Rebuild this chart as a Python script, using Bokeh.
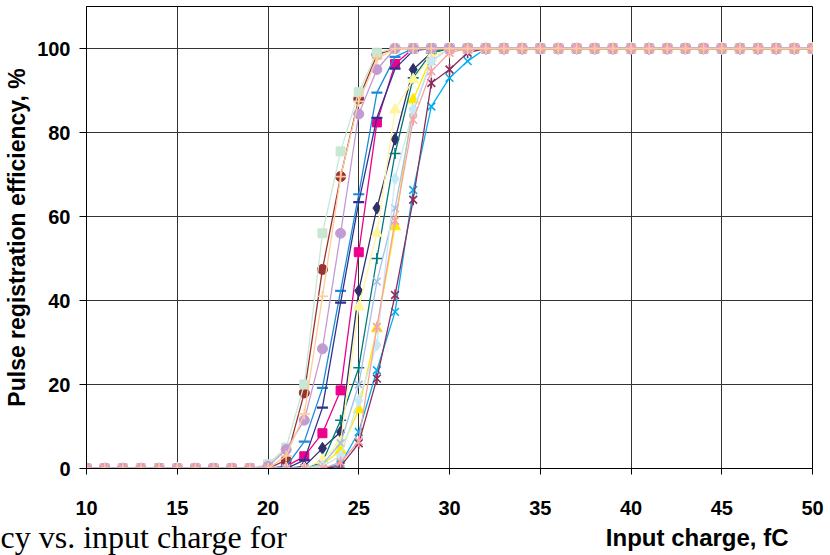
import math
from bokeh.plotting import figure
from bokeh.models import FixedTicker, Range1d, Title
from bokeh.embed import file_html
from bokeh.resources import INLINE

# Input charge, fC (one point per fC)
x_charge = list(range(10, 51))
x_ticks = [10, 15, 20, 25, 30, 35, 40, 45, 50]
y_ticks = [0, 20, 40, 60, 80, 100]

# Pulse registration efficiency, % (values at x = 10 ... 50)
eff_green_sq = [0, 0, 0, 0, 0, 0, 0, 0, 0, 0,
                1, 5, 20, 56, 75.5, 89.6, 99, 100, 100, 100, 100, 100, 100,
                100, 100, 100, 100, 100, 100, 100, 100, 100, 100, 100, 100, 100, 100, 100, 100, 100, 100]
eff_peach_plus = [0, 0, 0, 0, 0, 0, 0, 0, 0, 0,
                  0, 3, 13, 41, 69.5, 87.4, 97.5, 100, 100, 100, 100, 100, 100,
                  100, 100, 100, 100, 100, 100, 100, 100, 100, 100, 100, 100, 100, 100, 100, 100, 100, 100]
eff_brown_circ = [0, 0, 0, 0, 0, 0, 0, 0, 0, 0,
                  0, 2, 18, 47.4, 69.5, 88, 98.5, 100, 100, 100, 100, 100, 100,
                  100, 100, 100, 100, 100, 100, 100, 100, 100, 100, 100, 100, 100, 100, 100, 100, 100, 100]
eff_lilac_circ = [0, 0, 0, 0, 0, 0, 0, 0, 0, 0,
                  0.5, 4.5, 11.5, 28.5, 56, 84.4, 95, 100, 100, 100, 100, 100, 100,
                  100, 100, 100, 100, 100, 100, 100, 100, 100, 100, 100, 100, 100, 100, 100, 100, 100, 100]
eff_blue_dash = [0, 0, 0, 0, 0, 0, 0, 0, 0, 0,
                 0, 0.5, 6.4, 19.2, 42.3, 65.3, 89.5, 98, 100, 100, 100, 100, 100,
                 100, 100, 100, 100, 100, 100, 100, 100, 100, 100, 100, 100, 100, 100, 100, 100, 100, 100]
eff_navy_dash = [0, 0, 0, 0, 0, 0, 0, 0, 0, 0,
                 0, 0, 2, 14.5, 39.5, 63.4, 83.5, 95.2, 99.5, 100, 100, 100, 100,
                 100, 100, 100, 100, 100, 100, 100, 100, 100, 100, 100, 100, 100, 100, 100, 100, 100, 100]
eff_pink_sq = [0, 0, 0, 0, 0, 0, 0, 0, 0, 0,
               0, 0.5, 2.9, 8.4, 18.6, 51.5, 82.4, 96.3, 100, 100, 100, 100, 100,
               100, 100, 100, 100, 100, 100, 100, 100, 100, 100, 100, 100, 100, 100, 100, 100, 100, 100]
eff_navy_diam = [0, 0, 0, 0, 0, 0, 0, 0, 0, 0,
                 0, 0, 0.5, 4.8, 8.7, 42.3, 62, 78.4, 95, 99, 100, 100, 100,
                 100, 100, 100, 100, 100, 100, 100, 100, 100, 100, 100, 100, 100, 100, 100, 100, 100, 100]
eff_pale_tri = [0, 0, 0, 0, 0, 0, 0, 0, 0, 0,
                0, 0, 0, 2, 6.3, 38.5, 56, 85.4, 92.6, 98, 100, 100, 100,
                100, 100, 100, 100, 100, 100, 100, 100, 100, 100, 100, 100, 100, 100, 100, 100, 100, 100]
eff_yellow_tri = [0, 0, 0, 0, 0, 0, 0, 0, 0, 0,
                  0, 0, 0, 1, 4.3, 14, 33.3, 57.6, 87.8, 98, 100, 100, 100,
                  100, 100, 100, 100, 100, 100, 100, 100, 100, 100, 100, 100, 100, 100, 100, 100, 100, 100]
eff_teal_plus = [0, 0, 0, 0, 0, 0, 0, 0, 0, 0,
                 0, 0, 0, 1.5, 11.5, 24, 50, 75, 93, 99, 100, 100, 100,
                 100, 100, 100, 100, 100, 100, 100, 100, 100, 100, 100, 100, 100, 100, 100, 100, 100, 100]
eff_paleblue_x = [0, 0, 0, 0, 0, 0, 0, 0, 0, 0,
                  0, 0, 0, 1, 6, 20, 44.5, 62, 85, 97, 100, 100, 100,
                  100, 100, 100, 100, 100, 100, 100, 100, 100, 100, 100, 100, 100, 100, 100, 100, 100, 100]
eff_cyan_diam = [0, 0, 0, 0, 0, 0, 0, 0, 0, 0,
                 0, 0, 0, 0.5, 3, 16.2, 29.4, 69, 85.4, 97, 100, 100, 100,
                 100, 100, 100, 100, 100, 100, 100, 100, 100, 100, 100, 100, 100, 100, 100, 100, 100, 100]
eff_pink_star = [0, 0, 0, 0, 0, 0, 0, 0, 0, 0,
                 0, 0, 0, 0, 1.5, 6.5, 33.7, 59, 83, 94.6, 99, 100, 100,
                 100, 100, 100, 100, 100, 100, 100, 100, 100, 100, 100, 100, 100, 100, 100, 100, 100, 100]
eff_blue_x = [0, 0, 0, 0, 0, 0, 0, 0, 0, 0,
              0, 0, 0, 0, 1, 8.7, 23.4, 37.3, 66.3, 86.2, 93, 97, 100,
              100, 100, 100, 100, 100, 100, 100, 100, 100, 100, 100, 100, 100, 100, 100, 100, 100, 100]
eff_maroon_star = [0, 0, 0, 0, 0, 0, 0, 0, 0, 0,
                   0, 0, 0, 0, 0.5, 6, 21.4, 41.3, 64, 91.8, 95, 99, 100,
                   100, 100, 100, 100, 100, 100, 100, 100, 100, 100, 100, 100, 100, 100, 100, 100, 100, 100]

# (values, colour, marker) in drawing order (first drawn = bottom)
series = [
    (eff_navy_diam, "#2e2f6b", "diamond"),
    (eff_pink_sq, "#ec008c", "square"),
    (eff_yellow_tri, "#ffe800", "triangle"),
    (eff_blue_x, "#00aeef", "x"),
    (eff_maroon_star, "#8c2d5c", "star"),
    (eff_brown_circ, "#993333", "circle"),
    (eff_teal_plus, "#007a78", "cross"),
    (eff_blue_dash, "#1c8ad4", "dash"),
    (eff_navy_dash, "#2e3192", "dash"),
    (eff_green_sq, "#c9e7d3", "square"),
    (eff_pale_tri, "#fff59d", "triangle"),
    (eff_paleblue_x, "#a5c0e5", "x"),
    (eff_cyan_diam, "#c7e8f8", "diamond"),
    (eff_lilac_circ, "#c39bd3", "circle"),
    (eff_pink_star, "#f5a3a8", "star"),
    (eff_peach_plus, "#ffcc99", "cross"),
]

FONT = "Liberation Sans"

p = figure(width=830, height=555,
           x_range=Range1d(10, 50), y_range=Range1d(0, 110),
           min_border_left=86, min_border_right=18,
           min_border_top=6, min_border_bottom=87,
           output_backend="svg", toolbar_location=None)

p.background_fill_color = "white"
p.border_fill_color = "white"
p.outline_line_color = "black"
p.outline_line_width = 1

p.xgrid.ticker = FixedTicker(ticks=x_ticks)
p.ygrid.ticker = FixedTicker(ticks=y_ticks)
for g in (p.xgrid, p.ygrid):
    g.grid_line_color = "#333333"
    g.grid_line_width = 1

xa = p.xaxis[0]
xa.ticker = FixedTicker(ticks=x_ticks)
xa.major_tick_out = 6
xa.major_tick_in = 0
xa.minor_tick_line_color = None
xa.axis_line_color = "black"
xa.major_tick_line_color = "black"
xa.major_label_text_font = FONT
xa.major_label_text_font_style = "bold"
xa.major_label_text_font_size = "20px"
xa.major_label_text_color = "black"
xa.major_label_standoff = 26

ya = p.yaxis[0]
ya.ticker = FixedTicker(ticks=y_ticks)
ya.major_tick_out = 7
ya.major_tick_in = 0
ya.minor_tick_line_color = None
ya.axis_line_color = "black"
ya.major_tick_line_color = "black"
ya.major_label_text_font = FONT
ya.major_label_text_font_style = "bold"
ya.major_label_text_font_size = "20px"
ya.major_label_text_color = "black"
ya.major_label_standoff = 9
ya.axis_label = "Pulse registration efficiency, %"
ya.axis_label_text_font = FONT
ya.axis_label_text_font_style = "bold"
ya.axis_label_text_font_size = "23px"
ya.axis_label_text_color = "black"
ya.axis_label_standoff = 4

for vals, col, mk in series:
    p.line(x_charge, vals, line_color=col, line_width=1.3)
    if mk in ("square", "circle", "diamond", "triangle"):
        sz = {"square": 9, "circle": 10, "diamond": 12, "triangle": 11}[mk]
        p.scatter(x_charge, vals, marker=mk, size=sz,
                  fill_color=col, line_color=col, line_width=1)
    elif mk == "star":
        p.scatter(x_charge, vals, marker="x", size=11,
                  fill_color=None, line_color=col, line_width=1.6)
        p.scatter(x_charge, vals, marker="dash", size=11, angle=math.pi / 2,
                  fill_color=None, line_color=col, line_width=1.6)
    elif mk == "dash":
        p.scatter(x_charge, vals, marker="dash", size=11,
                  fill_color=None, line_color=col, line_width=2.2)
    else:
        p.scatter(x_charge, vals, marker=mk, size=11,
                  fill_color=None, line_color=col, line_width=1.6)

p.add_layout(Title(text="Input charge, fC", align="right", offset=24,
                   text_font=FONT, text_font_style="bold",
                   text_font_size="24px", text_color="black",
                   standoff=8), "below")

p.add_layout(Title(text="cy vs.  input charge for", align="left", offset=-86,
                   vertical_align="top",
                   text_font="Liberation Serif", text_font_style="normal",
                   text_font_size="32px", text_color="black",
                   standoff=-71), "below")

open("out.html", "w").write(file_html(p, INLINE))
